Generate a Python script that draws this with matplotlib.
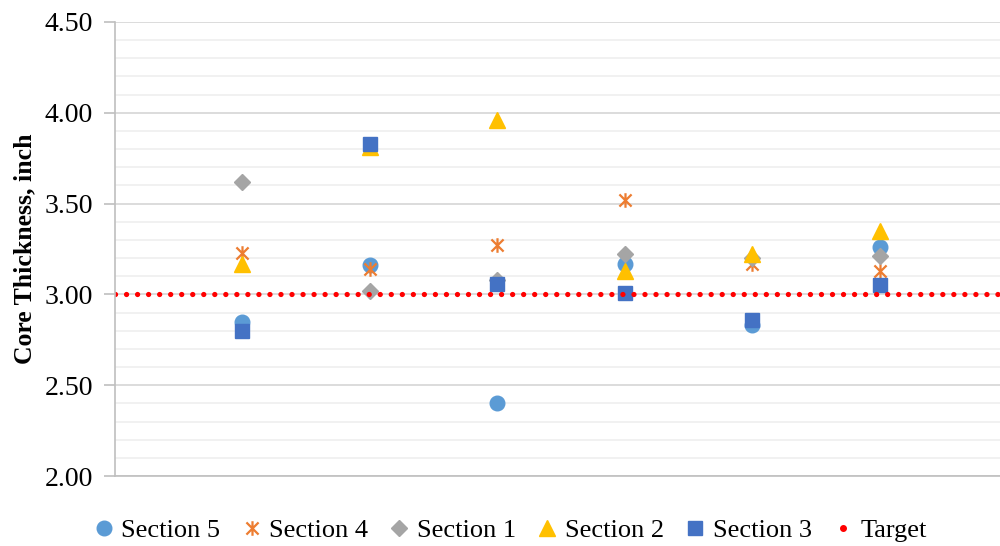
import matplotlib.pyplot as plt
from matplotlib.path import Path

plt.rcParams['font.family'] = ['Liberation Serif', 'DejaVu Serif']

positions = [1, 2, 3, 4, 5, 6]
section5 = [2.85, 3.16, 2.40, 3.17, 2.83, 3.26]
section4 = [3.23, 3.14, 3.27, 3.52, 3.17, 3.13]
section1 = [3.62, 3.02, 3.08, 3.22, 3.20, 3.21]
section2 = [3.17, 3.81, 3.96, 3.13, 3.22, 3.35]
section3 = [2.80, 3.83, 3.06, 3.01, 2.86, 3.05]
target_x = [0, 7]
target_y = [3.00, 3.00]

# excel style "star": an x with a vertical bar through it
star = Path([(-1, -1), (1, 1), (-1, 1), (1, -1), (0, -1.2), (0, 1.2)],
            [Path.MOVETO, Path.LINETO, Path.MOVETO, Path.LINETO, Path.MOVETO, Path.LINETO])

fig = plt.figure(figsize=(10, 5.46), dpi=100)
ax = fig.add_axes([0.115, 0.128, 0.892, 0.832])

ax.plot(positions, section5, 'o', color='#5B9BD5', markersize=10.5, label='Section 5')
ax.plot(positions, section4, linestyle='none', marker=star, markersize=10.5, markeredgewidth=1.6,
        markeredgecolor='#ED7D31', markerfacecolor='none', label='Section 4')
ax.plot(positions, section1, 'D', color='#A5A5A5', markersize=8, label='Section 1')
ax.plot(positions, section2, '^', color='#FFC000', markersize=11, label='Section 2')
ax.plot(positions, section3, 's', color='#4472C4', markersize=10.5, label='Section 3')
ax.plot(target_x, target_y, color='#FF0000', linewidth=3.8, linestyle=(0, (0.01, 2.08)),
        dash_capstyle='round', label='Target')

ax.set_xlim(0, 7)
ax.set_ylim(2.0, 4.5)
ax.set_yticks([2.0, 2.5, 3.0, 3.5, 4.0, 4.5])
ax.set_yticks([2.0 + 0.1 * i for i in range(26)], minor=True)
ax.set_yticklabels(['2.00', '2.50', '3.00', '3.50', '4.00', '4.50'], fontsize=20)
ax.set_xticks([])
ax.tick_params(axis='y', which='major', length=8, color='#BFBFBF', width=1.2, pad=8)
ax.tick_params(axis='y', which='minor', length=0)

ax.grid(True, which='major', axis='y', color='#D9D9D9', linewidth=1.3)
ax.grid(True, which='minor', axis='y', color='#F0F0F0', linewidth=1.3)
ax.set_axisbelow(True)

for side in ['top', 'right']:
    ax.spines[side].set_visible(False)
ax.spines['left'].set_color('#BFBFBF')
ax.spines['bottom'].set_color('#BFBFBF')
ax.spines['left'].set_linewidth(1.2)
ax.spines['bottom'].set_linewidth(1.2)

ax.set_ylabel('Core Thickness, inch', fontsize=18.5, fontweight='bold', labelpad=6)

handles, labels = ax.get_legend_handles_labels()
target_handle = plt.Line2D([], [], linestyle='none', marker='o', markersize=4, color='#FF0000')
handles[-1] = target_handle
fig.legend(handles, labels, loc='lower center', bbox_to_anchor=(0.51, -0.037), ncol=6,
           frameon=False, fontsize=19, handlelength=0.8, handletextpad=0.25, columnspacing=0.8)

fig.savefig('out.png', dpi=100)
